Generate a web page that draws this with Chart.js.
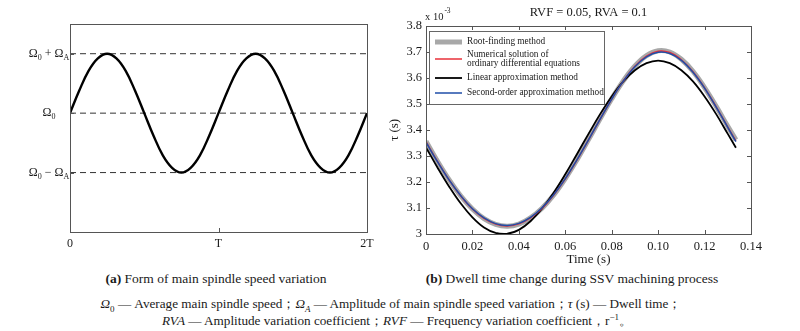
<!DOCTYPE html>
<html>
<head>
<meta charset="utf-8">
<script src="https://cdn.jsdelivr.net/npm/chart.js@4.4.0/dist/chart.umd.min.js"></script>
<style>
  body { margin: 0; background: #fff; width: 800px; height: 331px; position: relative; overflow: hidden;
         font-family: "Liberation Serif", "DejaVu Serif", serif; color: #1a1a1a; }
  #wrapA { position: absolute; left: 0; top: 0; width: 380px; height: 262px; }
  #wrapB { position: absolute; left: 380px; top: 0; width: 420px; height: 268px; }
  .cap { position: absolute; top: 271px; font-size: 13.5px; white-space: nowrap; transform: translateX(-50%); }
  .note { position: absolute; font-size: 13.2px; white-space: nowrap; transform: translateX(-50%); }
  sub, sup { font-size: 9px; line-height: 0; }
</style>
</head>
<body>
<div id="wrapA"><canvas id="chartA" width="380" height="262"></canvas></div>
<div id="wrapB"><canvas id="chartB" width="420" height="268"></canvas></div>
<div class="cap" style="left:216px"><b>(a)</b> Form of main spindle speed variation</div>
<div class="cap" style="left:572px"><b>(b)</b> Dwell time change during SSV machining process</div>
<div class="note" style="left:391px;top:295px"><i>Ω</i><sub>0</sub> — Average main spindle speed；<i>Ω</i><sub><i>A</i></sub> — Amplitude of main spindle speed variation；<i>τ</i> (s) — Dwell time；</div>
<div class="note" style="left:397px;top:312px"><i>RVA</i> — Amplitude variation coefficient；<i>RVF</i> — Frequency variation coefficient，r<sup>−1</sup>。</div>

<script>
// (a) spindle speed form, x in periods T, y in units of Omega_A around Omega_0
const phaseT = [0, 0.0625, 0.125, 0.1875, 0.25, 0.3125, 0.375, 0.4375, 0.5, 0.5625, 0.625, 0.6875, 0.75, 0.8125, 0.875, 0.9375,
                1, 1.0625, 1.125, 1.1875, 1.25, 1.3125, 1.375, 1.4375, 1.5, 1.5625, 1.625, 1.6875, 1.75, 1.8125, 1.875, 1.9375, 2];
const speedLevel = [0, 0.38, 0.71, 0.92, 1, 0.92, 0.71, 0.38, 0, -0.38, -0.71, -0.92, -1, -0.92, -0.71, -0.38,
                    0, 0.38, 0.71, 0.92, 1, 0.92, 0.71, 0.38, 0, -0.38, -0.71, -0.92, -1, -0.92, -0.71, -0.38, 0];
const levelValues = [1, 0, -1];
const levelLabels = ['Ω_0 + Ω_A', 'Ω_0', 'Ω_0 − Ω_A'];
const xTickLabels = ['0', 'T', '2T'];

// (b) dwell time, tau in 1e-3 s
const timeS = [0, 0.005, 0.01, 0.015, 0.02, 0.025, 0.03, 0.035, 0.04, 0.045, 0.05, 0.055, 0.06, 0.065,
               0.07, 0.075, 0.08, 0.085, 0.09, 0.095, 0.1, 0.105, 0.11, 0.115, 0.12, 0.125, 0.13, 0.1335];
const rootFinding = [3.357, 3.279, 3.208, 3.146, 3.096, 3.059, 3.037, 3.030, 3.038, 3.062, 3.099, 3.150, 3.213, 3.285,
                     3.363, 3.443, 3.520, 3.589, 3.646, 3.686, 3.705, 3.700, 3.672, 3.626, 3.563, 3.491, 3.414, 3.362];
const numericalOde = [3.355, 3.278, 3.207, 3.146, 3.096, 3.060, 3.038, 3.031, 3.039, 3.062, 3.099, 3.150, 3.212, 3.284,
                      3.362, 3.442, 3.519, 3.588, 3.645, 3.684, 3.703, 3.698, 3.670, 3.624, 3.562, 3.489, 3.411, 3.358];
const linearApprox = [3.333, 3.255, 3.182, 3.117, 3.064, 3.025, 3.004, 3.001, 3.016, 3.049, 3.098, 3.159, 3.230, 3.307,
                      3.385, 3.461, 3.529, 3.587, 3.630, 3.657, 3.667, 3.657, 3.630, 3.587, 3.529, 3.461, 3.385, 3.332];
const secondOrder = [3.353, 3.277, 3.207, 3.147, 3.097, 3.062, 3.040, 3.033, 3.041, 3.064, 3.101, 3.151, 3.213, 3.285,
                     3.362, 3.442, 3.519, 3.588, 3.643, 3.681, 3.699, 3.694, 3.668, 3.622, 3.561, 3.488, 3.410, 3.355];
const seriesNames = ['Root-finding method', 'Numerical solution of\nordinary differential equations',
                     'Linear approximation method', 'Second-order approximation method'];

const SERIF = '"Liberation Serif", "DejaVu Serif", serif';
const INK = '#1a1a1a';
const toXY = (xs, ys) => xs.map((x, i) => ({ x: x, y: ys[i] }));

// draws text where "_c" means subscript c
function drawSubText(ctx, text, cx, cy, size) {
  const parts = [];
  for (let i = 0; i < text.length; i++) {
    if (text[i] === '_') { parts.push({ t: text[i + 1], sub: true }); i++; }
    else parts.push({ t: text[i], sub: false });
  }
  const fontOf = p => (p.sub ? Math.round(size * 0.7) : size) + 'px ' + SERIF;
  let w = 0;
  parts.forEach(p => { ctx.font = fontOf(p); w += ctx.measureText(p.t).width; });
  let x = cx - w / 2;
  ctx.textBaseline = 'middle';
  ctx.textAlign = 'left';
  parts.forEach(p => {
    ctx.font = fontOf(p);
    ctx.fillText(p.t, x, p.sub ? cy + size * 0.35 : cy);
    x += ctx.measureText(p.t).width;
  });
}

const boxTicks = {
  id: 'boxTicks',
  afterDatasetsDraw(chart, args, opts) {
    const { ctx, chartArea: a, scales } = chart;
    const len = 4;
    ctx.save();
    ctx.strokeStyle = opts.color;
    ctx.lineWidth = 1;
    ctx.strokeRect(Math.round(a.left) + 0.5, Math.round(a.top) + 0.5, Math.round(a.right - a.left), Math.round(a.bottom - a.top));
    ctx.beginPath();
    scales.x.ticks.forEach(t => {
      const px = Math.round(scales.x.getPixelForValue(t.value)) + 0.5;
      ctx.moveTo(px, a.bottom); ctx.lineTo(px, a.bottom - len);
      if (opts.mirror) { ctx.moveTo(px, a.top); ctx.lineTo(px, a.top + len); }
    });
    scales.y.ticks.forEach(t => {
      const py = Math.round(scales.y.getPixelForValue(t.value)) + 0.5;
      ctx.moveTo(a.left, py); ctx.lineTo(a.left + len, py);
      if (opts.mirror) { ctx.moveTo(a.right, py); ctx.lineTo(a.right - len, py); }
    });
    ctx.stroke();
    ctx.restore();
  }
};

const levelText = {
  id: 'levelText',
  afterDraw(chart) {
    const { ctx, scales } = chart;
    ctx.save();
    ctx.fillStyle = INK;
    levelValues.forEach((v, i) => drawSubText(ctx, levelLabels[i], 49, scales.y.getPixelForValue(v), 12));
    ctx.restore();
  }
};

new Chart(document.getElementById('chartA'), {
  type: 'line',
  data: {
    datasets: [
      { data: toXY(phaseT, speedLevel), borderColor: '#000', borderWidth: 2.4, tension: 0.4 }
    ].concat(levelValues.map(v => ({
      data: [{ x: 0, y: v }, { x: 2, y: v }],
      borderColor: '#333', borderWidth: 1, borderDash: [6, 4]
    })))
  },
  plugins: [boxTicks, levelText],
  options: {
    responsive: false, animation: false,
    layout: { padding: { left: 0, top: 24, right: 13, bottom: 0 } },
    elements: { point: { radius: 0 } },
    plugins: { legend: { display: false }, tooltip: { enabled: false }, boxTicks: { color: '#555', mirror: false } },
    scales: {
      x: {
        type: 'linear', min: 0, max: 2,
        afterBuildTicks: s => { s.ticks = xTickLabels.map((l, i) => ({ value: i })); },
        afterFit: s => { s.height = 30; },
        grid: { display: false, drawTicks: false }, border: { display: false },
        ticks: { padding: 5, color: INK, font: { family: SERIF, size: 12 }, callback: (v) => xTickLabels[v], maxRotation: 0 }
      },
      y: {
        type: 'linear', min: -2, max: 1.5,
        afterBuildTicks: s => { s.ticks = levelValues.map(v => ({ value: v })); },
        afterFit: s => { s.width = 70; },
        grid: { display: false, drawTicks: false }, border: { display: false },
        ticks: { display: false }
      }
    }
  }
});

const headerAndLegend = {
  id: 'headerAndLegend',
  afterDraw(chart) {
    const { ctx, chartArea: a } = chart;
    ctx.save();
    ctx.fillStyle = INK;
    ctx.textBaseline = 'middle';
    ctx.textAlign = 'center';
    ctx.font = '12.5px ' + SERIF;
    ctx.fillText('RVF = 0.05, RVA = 0.1', (a.left + a.right) / 2, a.top - 13);
    ctx.font = '13px ' + SERIF;
    ctx.fillText('Time (s)', (a.left + a.right) / 2, a.bottom + 26);
    ctx.textAlign = 'left';
    ctx.font = '10.5px ' + SERIF;
    ctx.fillText('x 10', a.left - 1, a.top - 9);
    const w = ctx.measureText('x 10').width;
    ctx.font = '7.5px ' + SERIF;
    ctx.fillText('-3', a.left - 1 + w + 1, a.top - 15);

    // legend box
    const bx = a.left + 3, by = a.top + 5, bw = 175, bh = 73;
    ctx.fillStyle = '#fff';
    ctx.fillRect(bx, by, bw, bh);
    ctx.strokeStyle = '#666';
    ctx.lineWidth = 1;
    ctx.strokeRect(Math.round(bx) + 0.5, Math.round(by) + 0.5, bw, bh);
    const rows = [11, 28, 47, 62];
    ctx.font = '9.3px ' + SERIF;
    seriesNames.forEach((name, i) => {
      const ds = chart.data.datasets[i];
      const y = by + rows[i];
      ctx.strokeStyle = ds.borderColor;
      ctx.lineWidth = ds.borderWidth;
      ctx.beginPath();
      ctx.moveTo(bx + 6, y); ctx.lineTo(bx + 33, y);
      ctx.stroke();
      ctx.fillStyle = INK;
      const lines = name.split('\n');
      lines.forEach((ln, j) => ctx.fillText(ln, bx + 38, y + (j - (lines.length - 1) / 2) * 9));
    });
    ctx.restore();
  }
};

new Chart(document.getElementById('chartB'), {
  type: 'line',
  data: {
    datasets: [
      { label: seriesNames[0], data: toXY(timeS, rootFinding), borderColor: '#a8a8a8', borderWidth: 5, tension: 0.4, order: 4 },
      { label: seriesNames[1], data: toXY(timeS, numericalOde), borderColor: '#e8303a', borderWidth: 1.5, tension: 0.4, order: 2 },
      { label: seriesNames[2], data: toXY(timeS, linearApprox), borderColor: '#000', borderWidth: 1.8, tension: 0.4, order: 3 },
      { label: seriesNames[3], data: toXY(timeS, secondOrder), borderColor: '#1f4ea8', borderWidth: 1.5, tension: 0.4, order: 1 }
    ]
  },
  plugins: [boxTicks, headerAndLegend],
  options: {
    responsive: false, animation: false,
    layout: { padding: { left: 0, top: 26, right: 49, bottom: 0 } },
    elements: { point: { radius: 0 } },
    plugins: { legend: { display: false }, tooltip: { enabled: false }, boxTicks: { color: '#555', mirror: true } },
    scales: {
      x: {
        type: 'linear', min: 0, max: 0.14,
        afterFit: s => { s.height = 34; },
        grid: { display: false, drawTicks: false }, border: { display: false },
        ticks: { stepSize: 0.02, padding: 5, color: INK, font: { family: SERIF, size: 12.5 }, maxRotation: 0 }
      },
      y: {
        type: 'linear', min: 3, max: 3.8,
        afterFit: s => { s.width = 46; },
        grid: { display: false, drawTicks: false }, border: { display: false },
        ticks: { stepSize: 0.1, padding: 4, color: INK, font: { family: SERIF, size: 12.5 }, callback: v => String(+v.toFixed(1)) },
        title: { display: true, text: 'τ (s)', color: INK, font: { family: SERIF, size: 13 }, padding: { top: 7, bottom: 0 } }
      }
    }
  }
});
</script>
</body>
</html>
